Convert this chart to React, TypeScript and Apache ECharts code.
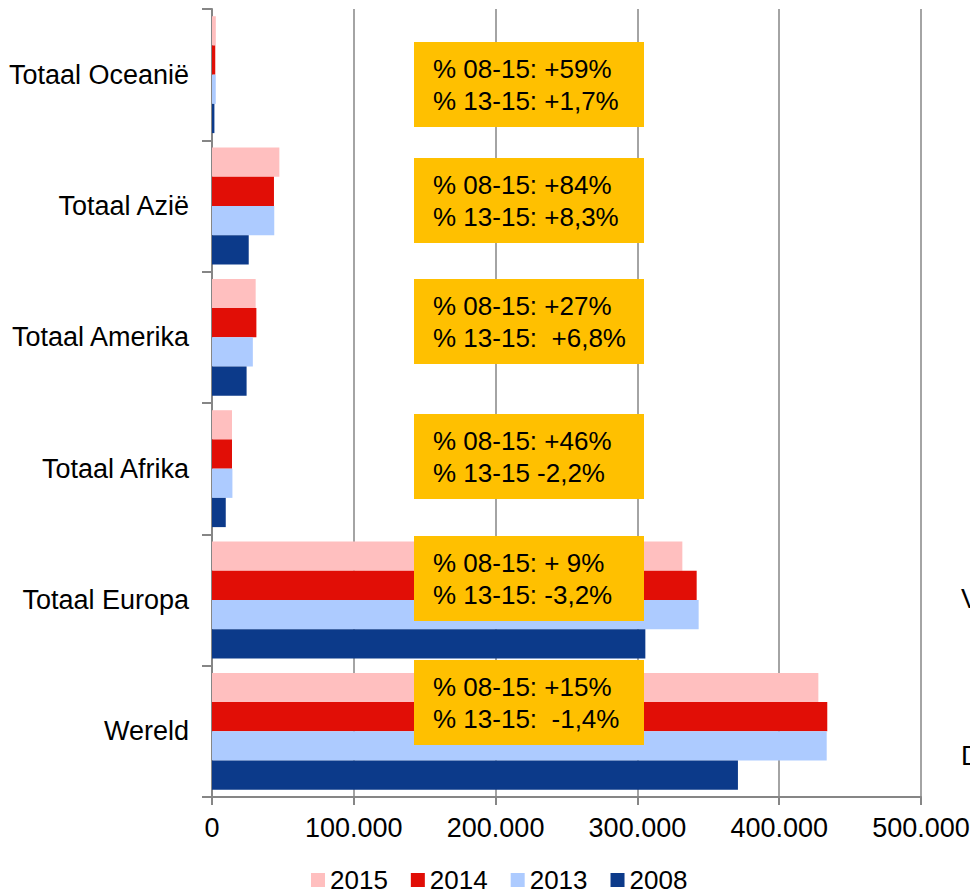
import React, { useEffect, useRef } from "react";
import * as echarts from "echarts";

const categories = ["Wereld", "Totaal Europa", "Totaal Afrika", "Totaal Amerika", "Totaal Azië", "Totaal Oceanië"];
const years = ["2015", "2014", "2013", "2008"];
const values2015 = [427600, 331700, 14100, 30800, 47500, 2700];
const values2014 = [433900, 341800, 14100, 31300, 43700, 2300];
const values2013 = [433500, 343200, 14400, 28800, 43900, 2650];
const values2008 = [370900, 305600, 9700, 24400, 25900, 1700];
const xTickLabels = ["0", "100.000", "200.000", "300.000", "400.000", "500.000"];

// annotation texts, top box to bottom box
const annotLine1 = ["% 08-15: +59%", "% 08-15: +84%", "% 08-15: +27%", "% 08-15: +46%", "% 08-15: + 9%", "% 08-15: +15%"];
const annotLine2 = ["% 13-15: +1,7%", "% 13-15: +8,3%", "% 13-15:  +6,8%", "% 13-15 -2,2%", "% 13-15: -3,2%", "% 13-15:  -1,4%"];
const sideTexts = ["V", "D"];

const FONT = 'Arial, "Liberation Sans", sans-serif';
const COLORS = ["#FFBFBF", "#E10E06", "#ADCBFF", "#0C3A8A"];
const BOX_TOPS = [42, 158, 279, 414, 536, 660];
const SIDE_Y = [599, 756];

export default function App() {
  const ref = useRef<HTMLDivElement>(null);
  useEffect(() => {
    if (!ref.current) return;
    const chart = echarts.init(ref.current, undefined, { renderer: "svg" });
    const seriesData = [values2015, values2014, values2013, values2008];
    const graphics: any[] = [];
    BOX_TOPS.forEach((top, i) => {
      graphics.push({
        type: "rect",
        z: 100,
        shape: { x: 414, y: top, width: 230, height: 85 },
        style: { fill: "#FFC000" },
      });
      graphics.push({
        type: "text",
        z: 101,
        x: 433,
        y: top + 27,
        style: { text: annotLine1[i], font: `26px ${FONT}`, fill: "#000", verticalAlign: "middle" },
      });
      graphics.push({
        type: "text",
        z: 101,
        x: 433,
        y: top + 59,
        style: { text: annotLine2[i], font: `26px ${FONT}`, fill: "#000", verticalAlign: "middle" },
      });
    });
    sideTexts.forEach((t, i) => {
      graphics.push({
        type: "text",
        z: 101,
        x: 961,
        y: SIDE_Y[i],
        style: { text: t, font: `27px ${FONT}`, fill: "#000", verticalAlign: "middle" },
      });
    });

    chart.setOption({
      animation: false,
      backgroundColor: "#fff",
      grid: { left: 212, right: 49, top: 9, bottom: 97, containLabel: false, outerBoundsMode: "none" },
      legend: {
        data: years,
        left: 306,
        top: 862,
        icon: "rect",
        itemWidth: 14,
        itemHeight: 14,
        itemGap: 23,
        textStyle: { fontFamily: FONT, fontSize: 26, color: "#000" },
      },
      xAxis: {
        type: "value",
        min: 0,
        max: 500000,
        interval: 100000,
        axisLine: { show: true, lineStyle: { color: "#868686", width: 2 } },
        axisTick: { show: true, length: 8, lineStyle: { color: "#868686", width: 2 } },
        splitLine: { show: true, lineStyle: { color: "#868686", width: 1.5 } },
        axisLabel: {
          fontFamily: FONT,
          fontSize: 27,
          color: "#000",
          margin: 17,
          formatter: (v: number) => xTickLabels[Math.round(v / 100000)],
        },
      },
      yAxis: {
        type: "category",
        data: categories,
        axisLine: { show: true, lineStyle: { color: "#868686", width: 2 } },
        axisTick: { show: true, length: 10, lineStyle: { color: "#868686", width: 2 } },
        axisLabel: { fontFamily: FONT, fontSize: 27, color: "#000", margin: 23 },
      },
      series: years.map((y, i) => ({
        type: "bar",
        name: y,
        data: seriesData[i],
        barGap: "0%",
        barCategoryGap: "11%",
        itemStyle: { color: COLORS[i] },
      })),
      graphic: graphics,
    });
    return () => chart.dispose();
  }, []);
  return <div ref={ref} style={{ position: "fixed", left: 0, top: 0, width: 970, height: 894 }} />;
}
